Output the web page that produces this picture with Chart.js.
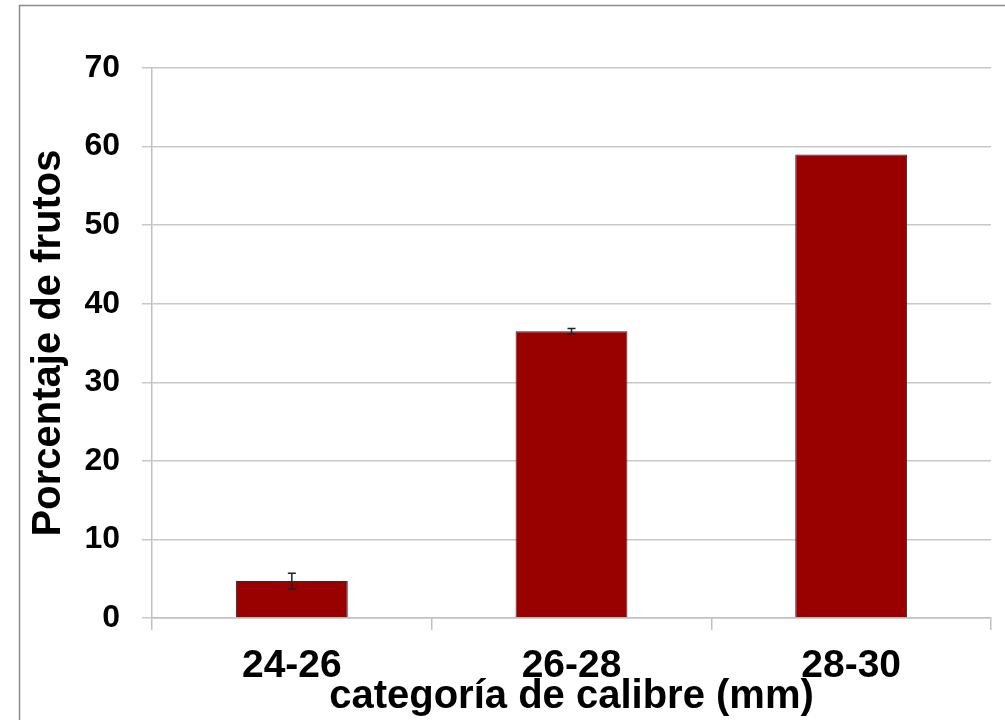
<!DOCTYPE html>
<html>
<head>
<meta charset="utf-8">
<script src="https://cdn.jsdelivr.net/npm/chart.js@4.4.1/dist/chart.umd.min.js"></script>
<style>
  html, body { margin: 0; padding: 0; background: #fff; }
  #wrap { width: 1005px; height: 720px; position: relative; }
</style>
</head>
<body>
<div id="wrap"><canvas id="c" width="1005" height="720"></canvas></div>
<script>
const categories = ['24-26', '26-28', '28-30'];
const percentValues = [4.7, 36.5, 59.0];
const errorValues = [1.0, 0.35, 0];
const yTicks = [0, 10, 20, 30, 40, 50, 60, 70];
const yTitle = 'Porcentaje de frutos';
const xTitle = 'categoría de calibre (mm)';

const FONT = '"Liberation Sans", Arial, Helvetica, sans-serif';

const framePlugin = {
  id: 'frame',
  beforeDraw(chart) {
    const ctx = chart.ctx;
    ctx.save();
    ctx.fillStyle = '#fff';
    ctx.fillRect(0, 0, chart.width, chart.height);
    ctx.strokeStyle = '#8c8c8c';
    ctx.lineWidth = 1.5;
    ctx.strokeRect(19.5, 5.5, 1200, 900);
    ctx.restore();
  }
};

const errorBarPlugin = {
  id: 'errorBars',
  afterDatasetsDraw(chart) {
    const ctx = chart.ctx;
    const xs = chart.scales.x, ys = chart.scales.y;
    ctx.save();
    ctx.strokeStyle = '#222';
    ctx.lineWidth = 1.5;
    percentValues.forEach((v, i) => {
      const e = errorValues[i];
      if (!e) return;
      const x = xs.getPixelForValue(i);
      const yt = ys.getPixelForValue(v + e);
      const yb = ys.getPixelForValue(v - e);
      const cap = 4;
      ctx.beginPath();
      ctx.moveTo(x, yt); ctx.lineTo(x, yb);
      ctx.moveTo(x - cap, yt); ctx.lineTo(x + cap, yt);
      ctx.moveTo(x - cap, yb); ctx.lineTo(x + cap, yb);
      ctx.stroke();
    });
    ctx.restore();
  }
};

new Chart(document.getElementById('c'), {
  type: 'bar',
  data: {
    labels: categories,
    datasets: [{
      data: percentValues,
      backgroundColor: '#990000',
      borderColor: '#3a2a2a',
      borderWidth: 1,
      categoryPercentage: 1.0,
      barPercentage: 0.4
    }]
  },
  options: {
    responsive: false,
    animation: false,
    devicePixelRatio: 1,
    layout: { padding: { top: 68, right: 14, bottom: 0, left: 0 } },
    plugins: { legend: { display: false }, tooltip: { enabled: false } },
    scales: {
      x: {
        afterFit(s) { s.height = 102; },
        grid: { display: true, drawOnChartArea: false, drawTicks: true, tickLength: 12, offset: true, color: '#c0c0c0', lineWidth: 1.5 },
        border: { display: true, color: '#c0c0c0', width: 1.5 },
        ticks: { color: '#000', font: { family: FONT, size: 39, weight: 'bold' }, padding: 13, maxRotation: 0, autoSkip: false },
        title: { display: true, text: xTitle, color: '#000', font: { family: FONT, size: 40, weight: 'bold' }, padding: { top: 0, bottom: -1 } }
      },
      y: {
        min: 0, max: 70,
        afterFit(s) { s.width = 152; },
        afterBuildTicks(s) { s.ticks = yTicks.map(v => ({ value: v })); },
        grid: { color: '#c8c8c8', lineWidth: 1.5, tickLength: 10, drawTicks: true },
        border: { display: true, color: '#c0c0c0', width: 1.5 },
        ticks: { color: '#000', font: { family: FONT, size: 32, weight: 'bold' }, padding: 22 },
        title: { display: true, text: yTitle, color: '#000', font: { family: FONT, size: 40, weight: 'bold' }, padding: { top: 25, bottom: 0 } }
      }
    }
  },
  plugins: [framePlugin, errorBarPlugin]
});
</script>
</body>
</html>
